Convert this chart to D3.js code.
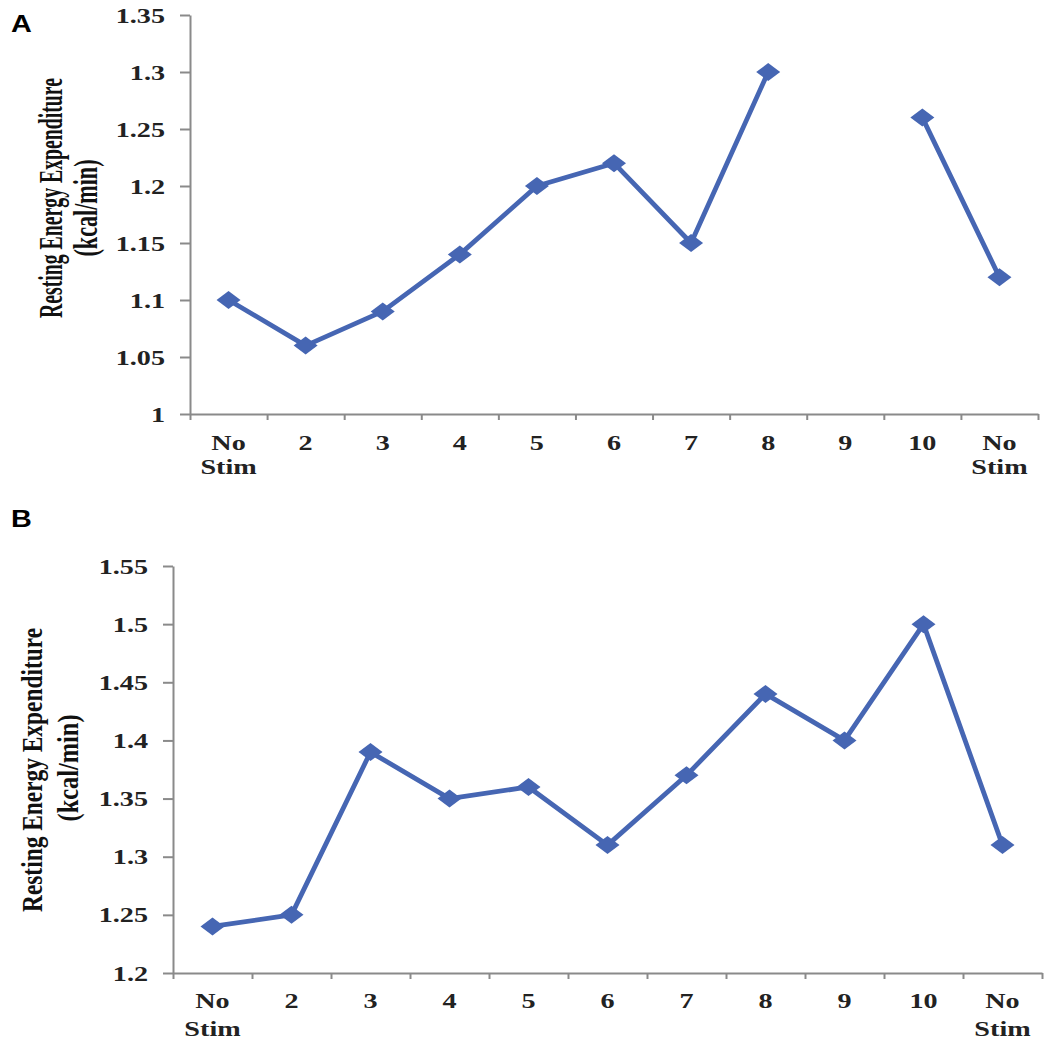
<!DOCTYPE html>
<html>
<head>
<meta charset="utf-8">
<script src="https://cdn.jsdelivr.net/npm/d3@7/dist/d3.min.js"></script>
<style>
  html, body { margin: 0; padding: 0; background: #ffffff; }
  svg { display: block; }
</style>
</head>
<body>
<svg id="chart" width="1050" height="1044"></svg>
<script>
// ---- Data ----
const categories = ["No Stim", "2", "3", "4", "5", "6", "7", "8", "9", "10", "No Stim"];
const valuesA = [1.10, 1.06, 1.09, 1.14, 1.20, 1.22, 1.15, 1.30, null, 1.26, 1.12];
const valuesB = [1.24, 1.25, 1.39, 1.35, 1.36, 1.31, 1.37, 1.44, 1.40, 1.50, 1.31];
const yTicksA = [1, 1.05, 1.1, 1.15, 1.2, 1.25, 1.3, 1.35];
const yTickLabelsA = ["1", "1.05", "1.1", "1.15", "1.2", "1.25", "1.3", "1.35"];
const yTicksB = [1.2, 1.25, 1.3, 1.35, 1.4, 1.45, 1.5, 1.55];
const yTickLabelsB = ["1.2", "1.25", "1.3", "1.35", "1.4", "1.45", "1.5", "1.55"];
const yTitleLines = ["Resting Energy Expenditure", "(kcal/min)"];
const panelLabels = ["A", "B"];

// ---- Style ----
const LINE_COLOR = "#4666b3";
const AXIS_COLOR = "#8a8a8a";
const TEXT_COLOR = "#222222";
const SERIF = "'Liberation Serif', 'Times New Roman', serif";
const SX = 1.28; // horizontal stretch of the text in the reference

const svg = d3.select("#chart");

function drawPanel(cfg) {
  const g = svg.append("g");
  const n = categories.length;
  const xb = d3.scaleBand().domain(d3.range(n)).range([cfg.x0, cfg.x1]).padding(0);
  const xl = d3.scaleLinear().domain([0, n]).range([cfg.x0, cfg.x1]);
  const y = d3.scaleLinear().domain(cfg.yDomain).range([cfg.yBottom, cfg.yTop]);

  // x axis (ticks at band boundaries)
  const xAxis = g.append("g")
    .attr("transform", `translate(0,${cfg.yBottom})`)
    .call(d3.axisBottom(xl).tickValues(d3.range(n + 1)).tickSize(6).tickSizeOuter(0).tickFormat(""));
  xAxis.selectAll("path, line").attr("stroke", AXIS_COLOR).attr("stroke-width", 2);

  // y axis
  const pad = 15, tick = 10;
  const yAxis = g.append("g")
    .attr("transform", `translate(${cfg.x0},0)`)
    .call(d3.axisLeft(y).tickValues(cfg.yTicks).tickSize(tick).tickSizeOuter(0)
      .tickPadding(pad).tickFormat((d, i) => cfg.yLabels[i]));
  yAxis.selectAll("path, line").attr("stroke", AXIS_COLOR).attr("stroke-width", 2);
  const off = tick + pad;
  yAxis.selectAll("text")
    .attr("font-family", SERIF).attr("font-size", 22).attr("font-weight", "bold")
    .attr("fill", TEXT_COLOR)
    .attr("transform", `translate(${-off},0) scale(${SX},1) translate(${off},0)`);

  // x category labels
  categories.forEach((c, i) => {
    const parts = c.split(" ");
    const t = g.append("text")
      .attr("transform", `translate(${xb(i) + xb.bandwidth() / 2},${cfg.yBottom + cfg.labelOffset}) scale(${SX},1)`)
      .attr("text-anchor", "middle")
      .attr("font-family", SERIF).attr("font-size", 22).attr("font-weight", "bold")
      .attr("fill", TEXT_COLOR);
    parts.forEach((p, k) => {
      t.append("tspan").attr("x", 0).attr("dy", k === 0 ? 0 : cfg.lineGap).text(p);
    });
  });

  // y title
  cfg.titleLines.forEach((tl, k) => {
    g.append("text")
      .attr("transform", `translate(${tl.bx},${tl.cy}) scale(${cfg.titleSX},1) rotate(-90)`)
      .attr("text-anchor", "middle")
      .attr("font-family", SERIF).attr("font-size", cfg.titleSize).attr("font-weight", "bold")
      .attr("fill", "#111")
      .attr("textLength", tl.len).attr("lengthAdjust", "spacingAndGlyphs")
      .text(yTitleLines[k]);
  });

  // panel label
  g.append("text")
    .attr("transform", `translate(${cfg.labelX},${cfg.labelY}) scale(1.2,1)`)
    .attr("font-family", "'Liberation Sans', Arial, sans-serif")
    .attr("font-size", 24).attr("font-weight", "bold").attr("fill", "#000")
    .text(cfg.panel);

  // line
  const cx = i => xb(i) + xb.bandwidth() / 2;
  const line = d3.line()
    .defined(d => d != null)
    .x((d, i) => cx(i))
    .y(d => y(d));
  g.append("path")
    .datum(cfg.values)
    .attr("d", line)
    .attr("fill", "none")
    .attr("stroke", LINE_COLOR)
    .attr("stroke-width", 4.8)
    .attr("stroke-linejoin", "round");

  // diamond markers
  const diamond = "M0,-9L12,0L0,9L-12,0Z";
  g.selectAll("path.mk")
    .data(cfg.values.map((v, i) => ({ v, i })).filter(d => d.v != null))
    .join("path")
    .attr("class", "mk")
    .attr("d", diamond)
    .attr("transform", d => `translate(${cx(d.i)},${y(d.v)})`)
    .attr("fill", LINE_COLOR);
}

drawPanel({
  panel: panelLabels[0], labelX: 11, labelY: 32,
  values: valuesA, yDomain: [1, 1.35], yTicks: yTicksA, yLabels: yTickLabelsA,
  x0: 190, x1: 1038, yTop: 15, yBottom: 414,
  labelOffset: 36, lineGap: 24,
  titleSize: 21, titleSX: 1.6,
  titleLines: [{ bx: 62, cy: 198, len: 240 }, { bx: 97, cy: 208, len: 97 }]
});

drawPanel({
  panel: panelLabels[1], labelX: 11, labelY: 527,
  values: valuesB, yDomain: [1.2, 1.55], yTicks: yTicksB, yLabels: yTickLabelsB,
  x0: 173, x1: 1042, yTop: 566, yBottom: 973,
  labelOffset: 35, lineGap: 28,
  titleSize: 22, titleSX: 1.35,
  titleLines: [{ bx: 42, cy: 770, len: 284 }, { bx: 78, cy: 768, len: 107 }]
});
</script>
</body>
</html>
